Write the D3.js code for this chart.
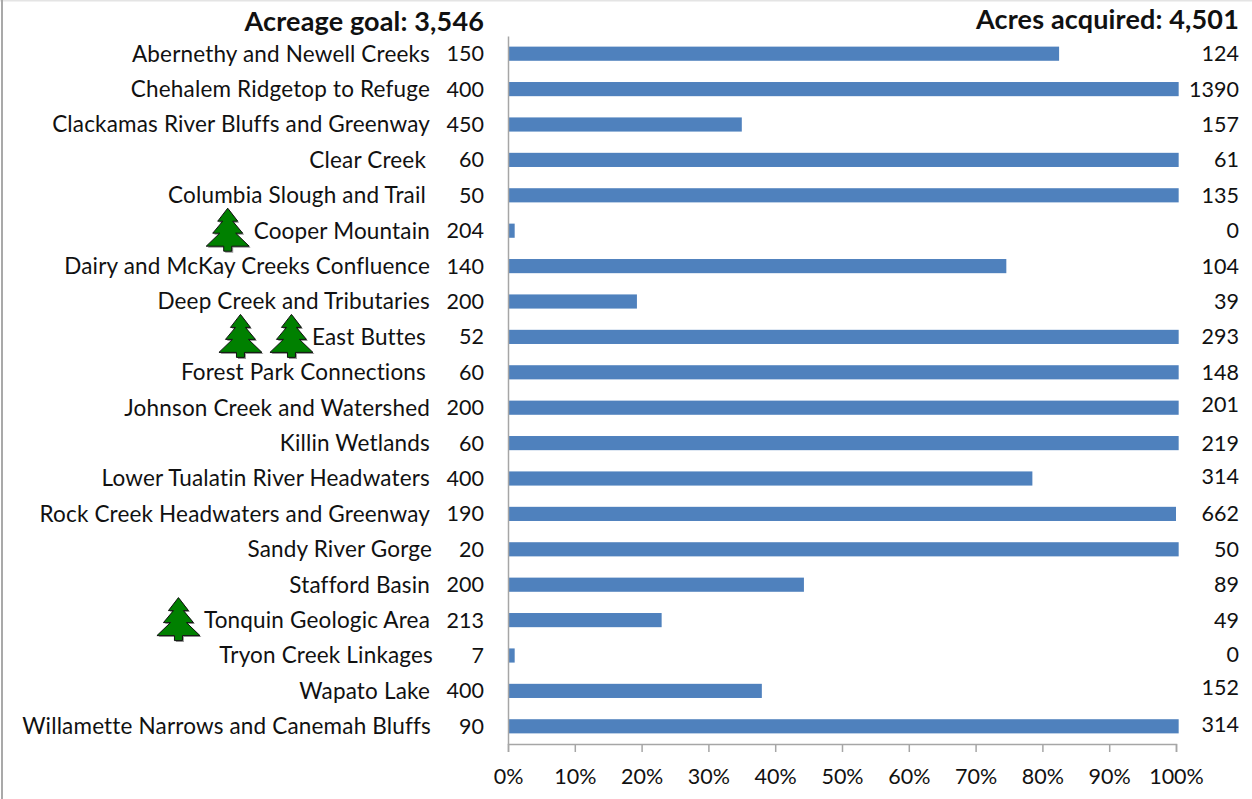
<!DOCTYPE html>
<meta content="text/html; charset=utf-8" http-equiv="Content-Type">
<html>
	<head>
	<title>Acreage goal and acres acquired</title>
		<style type="text/css">
			html, body{
				margin: 0;
				padding: 0;
				background: white;
				overflow: hidden;
			}
			text{
				font-family: Lato, "Open Sans", sans-serif;
				fill: #111;
			}
			.num, .tickLabel{
				font-size: 21.5px;
			}
			.label{
				font-size: 22.5px;
				letter-spacing: 0.17px;
			}
			.head{
				font-size: 27px;
				font-weight: bold;
				letter-spacing: 0.15px;
			}
		</style>
	</head>
	<body>
		<div id="chart"></div>
		<script src="https://d3js.org/d3.v7.min.js"></script>
		<script>
			var areas = ["Abernethy and Newell Creeks","Chehalem Ridgetop to Refuge","Clackamas River Bluffs and Greenway","Clear Creek","Columbia Slough and Trail","Cooper Mountain","Dairy and McKay Creeks Confluence","Deep Creek and Tributaries","East Buttes","Forest Park Connections","Johnson Creek and Watershed","Killin Wetlands","Lower Tualatin River Headwaters","Rock Creek Headwaters and Greenway","Sandy River Gorge","Stafford Basin","Tonquin Geologic Area","Tryon Creek Linkages","Wapato Lake","Willamette Narrows and Canemah Bluffs"];
			var goals = [150,400,450,60,50,204,140,200,52,60,200,60,400,190,20,200,213,7,400,90];
			var acquired = [124,1390,157,61,135,0,104,39,293,148,201,219,314,662,50,89,49,0,152,314];
			// percent of goal as drawn, the full bars run a bit past the 100% tick
			var percent = [82.5,100.4,35,100.4,100.4,1,74.6,19.3,100.4,100.4,100.4,100.4,78.5,100,100.4,44.3,23,1,38,100.4];
			var trees = [0,0,0,0,0,1,0,0,2,0,0,0,0,0,0,0,1,0,0,0];
			var percentTicks = [0,10,20,30,40,50,60,70,80,90,100];
			var goalTitle = "Acreage goal: 3,546";
			var acquiredTitle = "Acres acquired: 4,501";

			var width = 1252;
			var height = 799;
			var barColor = '#4f81bd';
			var axisColor = '#a6a6a6';

			var svg = d3.select('#chart').append('svg').attr('width', width).attr('height', height).style('display','block');

			// frame of the pasted picture
			svg.append('rect').attr('x',0).attr('y',0).attr('width',width).attr('height',1.5).attr('fill','#e4e4e4');
			svg.append('rect').attr('x',1).attr('y',0).attr('width',2).attr('height',height).attr('fill','#a9a9a9');

			var x = d3.scaleLinear().domain([0, 100]).range([508, 1176]);
			var y = d3.scaleBand().domain(areas).range([36, 744]).paddingInner(0.6).paddingOuter(0.3);
			var rowY = function(d){ return y(d) + y.bandwidth() / 2; };

			var rows = areas.map(function(name, i){
				return {name: name, goal: goals[i], acquired: acquired[i], percent: percent[i], trees: trees[i]};
			});

			// bars
			svg.selectAll('.bar').data(rows)
				.enter().append('rect')
				.attr('class','bar')
				.attr('x', x(0) + 1)
				.attr('y', function(d){ return y(d.name); })
				.attr('width', function(d){ return x(d.percent) - x(0) - 1; })
				.attr('height', y.bandwidth())
				.attr('fill', barColor);

			// axes
			var xAxis = d3.axisBottom(x).tickValues(percentTicks).tickSize(8).tickFormat(function(d){ return d + '%'; });
			var xg = svg.append('g').attr('transform','translate(0,744)').call(xAxis);
			xg.select('.domain').attr('stroke', axisColor).attr('stroke-width', 1.5);
			xg.selectAll('.tick line').attr('stroke', axisColor).attr('stroke-width', 1.5);
			xg.selectAll('.tick text')
				.attr('class','tickLabel')
				.attr('y', 25)
				.attr('dy','0.71em')
				.attr('font-family', null)
				.attr('font-size', null);

			var yAxis = d3.axisLeft(y).tickValues([]).tickSize(0).tickSizeOuter(0);
			var yg = svg.append('g').attr('transform','translate(508,0)').call(yAxis);
			yg.select('.domain').attr('stroke', axisColor).attr('stroke-width', 1.5);

			// labels, some of the originals sit off the common right edge
			var labelEnd = {"Clear Creek":426,"Columbia Slough and Trail":426,"East Buttes":426,"Forest Park Connections":426,"Sandy River Gorge":432,"Tryon Creek Linkages":433,"Willamette Narrows and Canemah Bluffs":431};
			// a few right hand numbers sit higher than their row
			var acquiredLift = {"Johnson Creek and Watershed":3,"Lower Tualatin River Headwaters":2,"Tryon Creek Linkages":1,"Wapato Lake":3,"Willamette Narrows and Canemah Bluffs":2};
			// gap from label start to the first tree
			var treeGap = {"Cooper Mountain":26,"East Buttes":20.5,"Tonquin Geologic Area":25.5};

			function textY(d){ return rowY(d.name) + 0.5; }

			var labels = svg.selectAll('.label').data(rows)
				.enter().append('text')
				.attr('class','label')
				.attr('text-anchor','end')
				.attr('x', function(d){ return labelEnd[d.name] || 430; })
				.attr('y', textY)
				.attr('dy','0.33em')
				.text(function(d){ return d.name; });

			svg.selectAll('.goal').data(rows)
				.enter().append('text')
				.attr('class','num goal')
				.attr('text-anchor','end')
				.attr('x', 484)
				.attr('y', textY)
				.attr('dy','0.33em')
				.text(function(d){ return d.goal; });

			svg.selectAll('.acq').data(rows)
				.enter().append('text')
				.attr('class','num acq')
				.attr('text-anchor','end')
				.attr('x', 1239)
				.attr('y', function(d){ return textY(d) - (acquiredLift[d.name] || 0); })
				.attr('dy','0.33em')
				.text(function(d){ return d.acquired; });

			svg.append('text').attr('class','head').attr('text-anchor','end').attr('x',484).attr('y',31).text(goalTitle);
			svg.append('text').attr('class','head').attr('text-anchor','end').attr('x',1239).attr('y',29).text(acquiredTitle);

			// little trees in front of some labels
			var treePath = 'M0,-22 L10,-9 L5,-9 L15,3 L8,3 L21.5,16 L4,16 L4,21 L-4,21 L-4,16 L-21.5,16 L-8,3 L-15,3 L-5,-9 L-10,-9 Z';
			labels.each(function(d){
				var start = (labelEnd[d.name] || 430) - this.getComputedTextLength();
				for(var i = 0; i < d.trees; i++)
				{
					var cx = start - treeGap[d.name] - i * 51;
					var cy = rowY(d.name) - 0.5;
					svg.append('path')
						.attr('d', treePath)
						.attr('transform','translate(' + (cx + 1.5) + ',' + (cy + 1.5) + ')')
						.attr('fill','#9a9a9a');
					svg.append('path')
						.attr('class','tree')
						.attr('d', treePath)
						.attr('transform','translate(' + cx + ',' + cy + ')')
						.attr('fill','#008000')
						.attr('stroke','#111')
						.attr('stroke-width',1);
				}
			});
		</script>
	</body>
</html>
